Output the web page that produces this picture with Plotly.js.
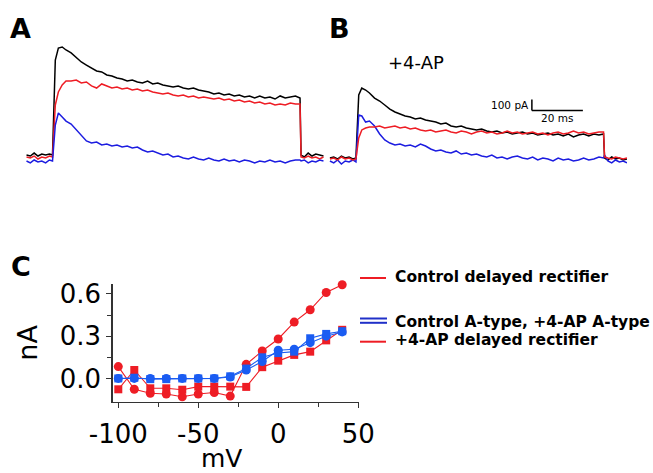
<!DOCTYPE html>
<html>
<head>
<meta charset="utf-8">
<script src="https://cdn.plot.ly/plotly-3.0.1.min.js"></script>
<style>html,body{margin:0;padding:0;background:#fff;}#chart{width:653px;height:473px;}</style>
</head>
<body>
<div id="chart"></div>
<script>
// ---------- Panels A and B: current traces (time in ms from step onset, current in pA) ----------
const timeMs = [-10.5,-9,-7.5,-6,-4.5,-3,-1.5,-0.3, 0.8,2,3.5,5,
  7,9,11,13,15,17,19,21,23,25,27,29,31,33,35,37,39,41,43,45,47,49,51,53,55,57,59,61,63,65,67,69,71,73,75,77,79,81,83,85,87,89,91,93,95,
  96.8, 97.2,98.5,100,101.5,103,104.5,106];

const controlBlack = [27,18,45,18,36,27,36,27, 890,1000,1009,982,
  955,918,873,845,818,791,782,755,745,727,718,700,709,691,682,700,673,682,664,655,645,655,636,627,636,618,609,600,582,591,573,582,564,573,555,564,545,564,545,555,536,564,545,555,564,
  545, 27,9,45,18,36,27,18];
const controlRed = [9,0,18,-9,9,0,18,9, 482,600,664,700,
  700,709,682,691,655,636,673,655,636,645,627,636,618,627,609,618,600,591,582,591,573,564,573,555,564,545,555,545,536,545,527,536,518,527,509,518,500,509,491,500,482,491,482,500,491,
  491, 9,0,18,0,9,-9,9];
const controlBlue = [-27,-45,-18,-36,-27,-45,-18,-27, 300,409,373,336,
  309,255,200,155,136,145,118,127,109,118,100,109,91,100,73,55,64,45,27,36,9,18,0,-9,9,-9,-18,0,-18,-27,-9,-27,-18,-36,-18,-27,-45,-27,-36,-18,-36,-27,-45,-27,-18,
  -18, -27,-18,-45,-27,-36,-18,-27];

const apBlack = [0,9,-9,18,0,9,-9,0, 573,636,618,591,
  545,518,482,445,418,400,382,373,355,364,345,336,327,309,318,291,282,291,273,264,255,264,245,236,245,227,236,218,227,236,218,227,209,218,227,209,218,200,218,191,209,218,200,218,209,
  218, 0,-18,9,-9,0,-18,-9];
const apRed = [-9,0,-18,9,-9,0,-18,-9, 182,255,273,282,
  282,291,273,282,291,273,282,264,273,255,245,255,236,245,255,236,227,245,236,218,236,245,227,236,218,227,245,227,236,218,227,236,218,227,209,227,236,218,227,245,227,236,218,227,236,
  236, 9,0,-9,9,0,-9,0];
const apBlue = [-27,-45,-18,-55,-27,-36,-18,-36, 391,382,327,336,
  291,218,164,136,118,127,109,118,100,127,109,82,64,73,55,45,64,36,45,27,36,18,9,27,0,9,-9,9,18,0,-9,9,-18,0,-9,-27,0,-18,-9,-27,-18,0,-18,-9,9,
  0, 27,-27,-45,-18,-36,-27,-45];

// scale bar (panel B)
const scaleBarMs = 20, scaleBarPA = 100, scaleBarT0 = 68.7, scaleBarI0 = 432;

// ---------- Panel C: I-V relation ----------
const voltages = [-100,-90,-80,-70,-60,-50,-40,-30,-20,-10,0,10,20,30,40];
const controlDelayedRectifier = [0.084,-0.077,-0.105,-0.11,-0.13,-0.11,-0.10,-0.125,0.10,0.195,0.28,0.40,0.487,0.61,0.665];
const apDelayedRectifier = [-0.077,0.06,-0.07,-0.07,-0.08,-0.058,-0.058,-0.058,-0.06,0.08,0.126,0.167,0.19,0.27,0.345];
const controlAType = [0,0,0,0,0,0,0,0.01,0.06,0.12,0.20,0.207,0.254,0.30,0.33];
const apAType = [0,0.005,-0.005,-0.005,0,0,0,0.015,0.07,0.15,0.18,0.19,0.285,0.316,0.335];
const xTickVals = [-100,-50,0,50], xTickText = ['-100','-50','0','50'];
const yTickVals = [0,0.3,0.6], yTickText = ['0.0','0.3','0.6'];

const W = 653, H = 473;
const px = x => x / W, py = y => 1 - y / H;

const RED_T = '#ee1c24', BLUE_T = '#1c1ce0';
const RED_M = '#ee1d25', BLUE_M = '#1a5cf2';

function trace(x, y, color, xa, ya) {
  return {x: x, y: y, type: 'scatter', mode: 'lines', line: {color: color, width: 1.5},
          xaxis: xa, yaxis: ya, hoverinfo: 'skip', showlegend: false};
}
function ivTrace(y, color, symbol, size) {
  return {x: voltages, y: y, type: 'scatter', mode: 'lines+markers',
          line: {color: color, width: 1.1}, marker: {color: color, symbol: symbol, size: size},
          xaxis: 'x3', yaxis: 'y3', hoverinfo: 'skip', showlegend: false, cliponaxis: false};
}

const data = [
  trace(timeMs, controlBlack, '#000000', 'x', 'y'),
  trace(timeMs, controlRed, RED_T, 'x', 'y'),
  trace(timeMs, controlBlue, BLUE_T, 'x', 'y'),
  trace(timeMs, apBlack, '#000000', 'x2', 'y2'),
  trace(timeMs, apBlue, BLUE_T, 'x2', 'y2'),
  trace(timeMs, apRed, RED_T, 'x2', 'y2'),
  ivTrace(controlDelayedRectifier, RED_M, 'circle', 9),
  ivTrace(apDelayedRectifier, RED_M, 'square', 8),
  ivTrace(controlAType, BLUE_M, 'circle', 9),
  ivTrace(apAType, BLUE_M, 'square', 8)
];

const traceY = {domain: [py(175), py(40)], range: [-154.5, 1072.6], visible: false, fixedrange: true};
const FONT = 'DejaVu Sans, sans-serif';

const layout = {
  width: W, height: H, margin: {l: 0, r: 0, t: 0, b: 0},
  paper_bgcolor: '#ffffff', plot_bgcolor: 'rgba(0,0,0,0)',
  font: {family: FONT, color: '#000'},
  showlegend: false,
  xaxis: {domain: [px(26), px(325)], range: [-10.7, 106.6], visible: false, anchor: 'y'},
  yaxis: Object.assign({anchor: 'x'}, traceY),
  xaxis2: {domain: [px(327.5), px(627)], range: [-11.45, 106.0], visible: false, anchor: 'y2'},
  yaxis2: Object.assign({anchor: 'x2'}, traceY),
  xaxis3: {
    domain: [px(112.7), px(358.5)], range: [-103.5, 50.2], anchor: 'y3',
    showline: true, linecolor: '#333', linewidth: 1.5, showgrid: false, zeroline: false,
    ticks: 'outside', ticklen: 5, tickwidth: 1.2, tickcolor: '#333', ticklabelstandoff: 4,
    tickvals: xTickVals, ticktext: xTickText, tickfont: {family: FONT, size: 26, color: '#000'},
    minor: {tickvals: [-75,-25,25], ticks: 'outside', ticklen: 4, tickwidth: 1, tickcolor: '#333'}
  },
  yaxis3: {
    domain: [py(401.7), py(284)], range: [-0.165, 0.67], anchor: 'x3',
    showline: true, linecolor: '#333', linewidth: 1.5, showgrid: false, zeroline: false,
    ticks: 'outside', ticklen: 5, tickwidth: 1.2, tickcolor: '#333',
    tickvals: yTickVals, ticktext: yTickText, tickfont: {family: FONT, size: 26, color: '#000'},
    minor: {tickvals: [0.15, 0.45], ticks: 'outside', ticklen: 4, tickwidth: 1, tickcolor: '#333'},
    title: {text: 'nA', font: {family: FONT, size: 27, color: '#000'}, standoff: 14}
  },
  shapes: [
    // scale bar
    {type: 'line', xref: 'x2', yref: 'y2', x0: scaleBarT0, x1: scaleBarT0, y0: scaleBarI0, y1: scaleBarI0 + scaleBarPA, line: {color: '#000', width: 1.5}},
    {type: 'line', xref: 'x2', yref: 'y2', x0: scaleBarT0, x1: scaleBarT0 + scaleBarMs, y0: scaleBarI0, y1: scaleBarI0, line: {color: '#000', width: 1.5}},
    // legend lines
    {type: 'line', xref: 'paper', yref: 'paper', x0: px(360), x1: px(386), y0: py(278), y1: py(278), line: {color: RED_T, width: 2}},
    {type: 'line', xref: 'paper', yref: 'paper', x0: px(360), x1: px(387), y0: py(318.5), y1: py(318.5), line: {color: '#2030c8', width: 2}},
    {type: 'line', xref: 'paper', yref: 'paper', x0: px(360), x1: px(387), y0: py(322.8), y1: py(322.8), line: {color: '#2030c8', width: 2}},
    {type: 'line', xref: 'paper', yref: 'paper', x0: px(360), x1: px(386), y0: py(341.7), y1: py(341.7), line: {color: RED_T, width: 2}}
  ],
  annotations: [
    {text: '<b>A</b>', x: px(8), y: py(28), xref: 'paper', yref: 'paper', xanchor: 'left', yanchor: 'middle', showarrow: false, font: {family: FONT, size: 27}},
    {text: '<b>B</b>', x: px(327), y: py(28), xref: 'paper', yref: 'paper', xanchor: 'left', yanchor: 'middle', showarrow: false, font: {family: FONT, size: 27}},
    {text: '<b>C</b>', x: px(9), y: py(266), xref: 'paper', yref: 'paper', xanchor: 'left', yanchor: 'middle', showarrow: false, font: {family: FONT, size: 27}},
    {text: '+4-AP', x: px(386), y: py(62), xref: 'paper', yref: 'paper', xanchor: 'left', yanchor: 'middle', showarrow: false, font: {family: FONT, size: 18}},
    {text: '100 pA', x: scaleBarT0, y: scaleBarI0 + scaleBarPA / 2, xref: 'x2', yref: 'y2', xanchor: 'right', yanchor: 'middle', xshift: -1, showarrow: false, font: {family: FONT, size: 10.5}},
    {text: '20 ms', x: scaleBarT0 + scaleBarMs / 2, y: scaleBarI0, xref: 'x2', yref: 'y2', xanchor: 'center', yanchor: 'top', yshift: 0, showarrow: false, font: {family: FONT, size: 10.5}},
    {text: 'mV', x: px(222), y: 0, xref: 'paper', yref: 'paper', xanchor: 'center', yanchor: 'bottom', yshift: -2, showarrow: false, font: {family: FONT, size: 25}},
    {text: '<b>Control delayed rectifier</b>', x: px(393), y: py(277), xref: 'paper', yref: 'paper', xanchor: 'left', yanchor: 'middle', showarrow: false, font: {family: FONT, size: 15.5}},
    {text: '<b>Control A-type, +4-AP A-type</b>', x: px(393), y: py(321.5), xref: 'paper', yref: 'paper', xanchor: 'left', yanchor: 'middle', showarrow: false, font: {family: FONT, size: 15.5}},
    {text: '<b>+4-AP delayed rectifier</b>', x: px(393), y: py(340), xref: 'paper', yref: 'paper', xanchor: 'left', yanchor: 'middle', showarrow: false, font: {family: FONT, size: 15.5}}
  ]
};

Plotly.newPlot('chart', data, layout, {staticPlot: true, displayModeBar: false});
</script>
</body>
</html>
